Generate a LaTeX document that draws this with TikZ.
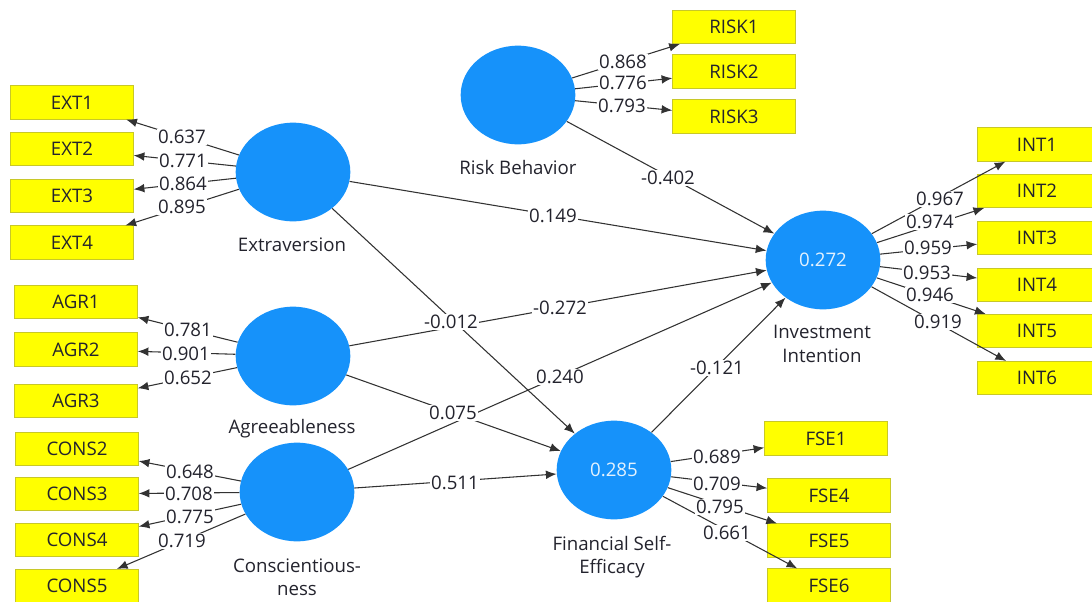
\documentclass[tikz,border=0pt]{standalone}
\usepackage{fontspec}
\setmainfont{Open Sans}
\usetikzlibrary{shapes.geometric,arrows.meta}
\definecolor{lvblue}{RGB}{22,146,250}
\definecolor{indyel}{RGB}{255,255,0}
\definecolor{indbord}{RGB}{200,200,40}
\definecolor{edgecol}{RGB}{50,50,50}
\definecolor{txtcol}{RGB}{35,35,45}
\tikzset{
  latent/.style={ellipse, fill=lvblue, draw=none, minimum width=86pt, minimum height=74pt, inner sep=0pt, text=white!88!lvblue, font=\fontsize{14}{16}\selectfont},
  indicator/.style={rectangle, fill=indyel, draw=indbord, line width=0.6pt, minimum width=92pt, minimum height=25pt, inner sep=0pt, text=txtcol, font=\fontsize{14}{16}\selectfont},
  wide/.style={minimum width=89pt},
  lvname/.style={text=txtcol, font=\fontsize{14}{17.5}\selectfont, align=center, inner sep=0pt},
  conn/.style={draw=edgecol, line width=0.8pt, -{Latex[length=8pt,width=6.5pt]}},
  val/.style={fill=white, inner sep=1pt, text=txtcol, font=\fontsize{14}{16}\selectfont}
}
\begin{document}
\begin{tikzpicture}[x=0.75pt,y=-0.75pt]
\useasboundingbox (0,0) rectangle (1092,601);
% latent variables
\node[latent] (ext) at (293,172) {};
\node[latent] (agr) at (293,356) {};
\node[latent] (cons) at (297,492) {};
\node[latent] (risk) at (518,95) {};
\node[latent] (int) at (823,260) {0.272};
\node[latent] (fse) at (614,470) {0.285};
% names
\node[lvname] (extn) at (292,245) {Extraversion};
\node[lvname] (agrn) at (292,429) {Agreeableness};
\node[lvname] (consn) at (297,577) {Conscientious-\\ness};
\node[lvname] (riskn) at (518,167) {Risk Behavior};
\node[lvname] (intn) at (822,344) {Investment\\Intention};
\node[lvname] (fsen) at (612,557) {Financial Self-\\Efficacy};
% indicators
\node[indicator] (ext1) at (72,102.5) {EXT1};
\node[indicator] (ext2) at (72,149) {EXT2};
\node[indicator] (ext3) at (72,196) {EXT3};
\node[indicator] (ext4) at (72,242.5) {EXT4};
\node[indicator] (agr1) at (76,302) {AGR1};
\node[indicator] (agr2) at (76,349.5) {AGR2};
\node[indicator] (agr3) at (76,401) {AGR3};
\node[indicator] (cons2) at (77,449) {CONS2};
\node[indicator] (cons3) at (77,494) {CONS3};
\node[indicator] (cons4) at (77,540) {CONS4};
\node[indicator] (cons5) at (77,586) {CONS5};
\node[indicator] (risk1) at (734,27) {RISK1};
\node[indicator] (risk2) at (734,71.5) {RISK2};
\node[indicator] (risk3) at (734,116.5) {RISK3};
\node[indicator,wide] (int1) at (1037,144.5) {INT1};
\node[indicator,wide] (int2) at (1037,191) {INT2};
\node[indicator,wide] (int3) at (1037,238) {INT3};
\node[indicator,wide] (int4) at (1037,285) {INT4};
\node[indicator,wide] (int5) at (1037,331) {INT5};
\node[indicator,wide] (int6) at (1037,378) {INT6};
\node[indicator] (fse1) at (826,438.5) {FSE1};
\node[indicator] (fse4) at (829,495.5) {FSE4};
\node[indicator] (fse5) at (829,540.5) {FSE5};
\node[indicator] (fse6) at (829,585.5) {FSE6};
% outer loadings
\draw[conn] (ext) -- (ext1);
\draw[conn] (ext) -- (ext2);
\draw[conn] (ext) -- (ext3);
\draw[conn] (ext) -- (ext4);
\draw[conn] (agr) -- (agr1);
\draw[conn] (agr) -- (agr2);
\draw[conn] (agr) -- (agr3);
\draw[conn] (cons) -- (cons2);
\draw[conn] (cons) -- (cons3);
\draw[conn] (cons) -- (cons4);
\draw[conn] (cons) -- (cons5);
\draw[conn] (risk) -- (risk1);
\draw[conn] (risk) -- (risk2);
\draw[conn] (risk) -- (risk3);
\draw[conn] (int) -- (int1);
\draw[conn] (int) -- (int2);
\draw[conn] (int) -- (int3);
\draw[conn] (int) -- (int4);
\draw[conn] (int) -- (int5);
\draw[conn] (int) -- (int6);
\draw[conn] (fse) -- (fse1);
\draw[conn] (fse) -- (fse4);
\draw[conn] (fse) -- (fse5);
\draw[conn] (fse) -- (fse6);
% structural paths
\draw[conn] (ext) -- (int);
\draw[conn] (ext) -- (fse);
\draw[conn] (agr) -- (int);
\draw[conn] (agr) -- (fse);
\draw[conn] (cons) -- (int);
\draw[conn] (cons) -- (fse);
\draw[conn] (risk) -- (int);
\draw[conn] (fse) -- (int);
% values
\node[val] (v1) at (182,137) {0.637};
\node[val] (v2) at (183,161) {0.771};
\node[val] (v3) at (183,184) {0.864};
\node[val] (v4) at (182,207) {0.895};
\node[val] (v5) at (188,330) {0.781};
\node[val] (v6) at (186,354) {0.901};
\node[val] (v7) at (188,378) {0.652};
\node[val] (v8) at (190,472) {0.648};
\node[val] (v9) at (189,494) {0.708};
\node[val] (v10) at (190,517) {0.775};
\node[val] (v11) at (182,541) {0.719};
\node[val] (v12) at (623,62) {0.868};
\node[val] (v13) at (623,83) {0.776};
\node[val] (v14) at (622,106) {0.793};
\node[val] (v15) at (940,199) {0.967};
\node[val] (v16) at (930,222) {0.974};
\node[val] (v17) at (928,248) {0.959};
\node[val] (v18) at (927,273) {0.953};
\node[val] (v19) at (930,295) {0.946};
\node[val] (v20) at (938,322) {0.919};
\node[val] (v21) at (717,457) {0.689};
\node[val] (v22) at (717,484) {0.709};
\node[val] (v23) at (720,507) {0.795};
\node[val] (v24) at (727,533) {0.661};
\node[val] (p1) at (553,216) {0.149};
\node[val] (p2) at (451,322) {-0.012};
\node[val] (p3) at (560,308) {-0.272};
\node[val] (p4) at (560,377) {0.240};
\node[val] (p5) at (453,413) {0.075};
\node[val] (p6) at (455,483) {0.511};
\node[val] (p7) at (668,178) {-0.402};
\node[val] (p8) at (717,368) {-0.121};
\end{tikzpicture}
\end{document}
